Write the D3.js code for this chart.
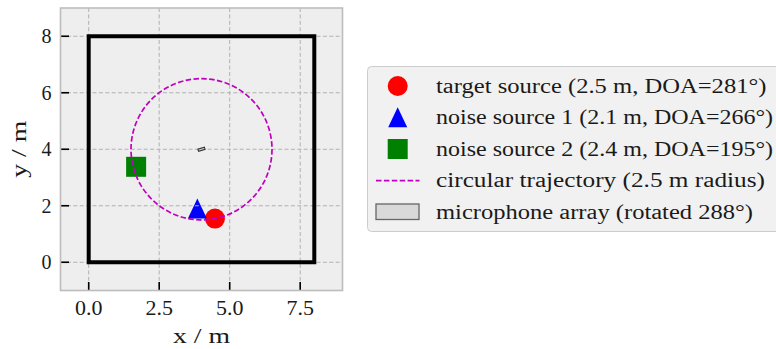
<!DOCTYPE html>
<html>
<head>
<meta charset="utf-8">
<script src="https://cdn.jsdelivr.net/npm/d3@7"></script>
<style>
  html, body { margin: 0; padding: 0; background: #ffffff; }
  svg { display: block; }
  text { font-family: "Liberation Serif", "DejaVu Serif", serif; fill: #1a1a1a; }
</style>
</head>
<body>
<svg id="chart" width="776" height="349"></svg>
<script>
// Room layout (metres)
const roomCorners = [[0, 0], [8, 0], [8, 8], [0, 8]];
const arrayCenter = [4, 4];
const arrayRotation = 288;          // degrees
const arraySize = [0.08, 0.24];     // element extent along local x, y (m)
const trajectoryRadius = 2.5;

// Sources: distance from array (m) and direction of arrival (deg)
const sourceNames = ["target source", "noise source 1", "noise source 2"];
const sourceDist = [2.5, 2.1, 2.4];
const sourceDOA = [281, 266, 195];
const sourceShapes = ["circle", "triangle", "square"];
const sourceColors = ["#ff0000", "#0000ff", "#008000"];

// Axes
const xDomain = [-1, 9];
const yDomain = [-1, 9];
const xTicks = [0, 2.5, 5, 7.5];
const yTicks = [0, 2, 4, 6, 8];

const svg = d3.select("#chart");
const plot = { left: 60.5, right: 342.5, top: 8, bottom: 290.5 };

const x = d3.scaleLinear().domain(xDomain).range([plot.left, plot.right]);
const y = d3.scaleLinear().domain(yDomain).range([plot.bottom, plot.top]);

const rad = d => d * Math.PI / 180;
const sourcePos = sourceDist.map((d, i) => [
  arrayCenter[0] + d * Math.cos(rad(sourceDOA[i])),
  arrayCenter[1] + d * Math.sin(rad(sourceDOA[i]))
]);

// axes background
svg.append("rect")
  .attr("x", plot.left).attr("y", plot.top)
  .attr("width", plot.right - plot.left).attr("height", plot.bottom - plot.top)
  .attr("fill", "#eeeeee");

svg.append("clipPath").attr("id", "plotclip")
  .append("rect")
  .attr("x", plot.left).attr("y", plot.top)
  .attr("width", plot.right - plot.left).attr("height", plot.bottom - plot.top);

const g = svg.append("g").attr("clip-path", "url(#plotclip)");

// marker drawing helper
function drawMarker(sel, shape, cx, cy, color, s) {
  if (shape === "circle") {
    sel.append("circle").attr("cx", cx).attr("cy", cy).attr("r", s * 0.5).attr("fill", color);
  } else if (shape === "triangle") {
    const h = s, w = s * 0.95;
    sel.append("path")
      .attr("d", `M${cx},${cy - h / 2} L${cx + w / 2},${cy + h / 2} L${cx - w / 2},${cy + h / 2} Z`)
      .attr("fill", color);
  } else {
    sel.append("rect").attr("x", cx - s / 2).attr("y", cy - s / 2)
      .attr("width", s).attr("height", s).attr("fill", color);
  }
}

// sources
sourcePos.forEach((p, i) => {
  drawMarker(g, sourceShapes[i], x(p[0]), y(p[1]), sourceColors[i], 20);
});

// grid
const grid = g.append("g").attr("stroke", "#b0b0b0").attr("stroke-width", 1)
  .attr("stroke-dasharray", "4,2.4");
xTicks.forEach(t => grid.append("line")
  .attr("x1", x(t)).attr("x2", x(t)).attr("y1", plot.top).attr("y2", plot.bottom));
yTicks.forEach(t => grid.append("line")
  .attr("y1", y(t)).attr("y2", y(t)).attr("x1", plot.left).attr("x2", plot.right));

// circular trajectory around the array
g.append("ellipse")
  .attr("cx", x(arrayCenter[0])).attr("cy", y(arrayCenter[1]))
  .attr("rx", x(arrayCenter[0] + trajectoryRadius) - x(arrayCenter[0]))
  .attr("ry", y(arrayCenter[1]) - y(arrayCenter[1] + trajectoryRadius))
  .attr("fill", "none").attr("stroke", "#bf00bf").attr("stroke-width", 1.7)
  .attr("stroke-dasharray", "5.5,2.4");

// room walls
g.append("path")
  .attr("d", d3.line().x(d => x(d[0])).y(d => y(d[1])).curve(d3.curveLinearClosed)(roomCorners))
  .attr("fill", "none").attr("stroke", "#000000").attr("stroke-width", 4)
  .attr("stroke-linejoin", "miter");

// microphone array footprint, rotated about its centre
const a = rad(arrayRotation);
const local = [[-1, -1], [1, -1], [1, 1], [-1, 1]].map(([u, v]) => [u * arraySize[0] / 2, v * arraySize[1] / 2]);
const arrayPoly = local.map(([u, v]) => [
  arrayCenter[0] + u * Math.cos(a) - v * Math.sin(a),
  arrayCenter[1] + u * Math.sin(a) + v * Math.cos(a)
]);
g.append("path")
  .attr("d", d3.line().x(d => x(d[0])).y(d => y(d[1])).curve(d3.curveLinearClosed)(arrayPoly))
  .attr("fill", "#d9d9d9").attr("stroke", "#333333").attr("stroke-width", 1.1);

// ticks (inward)
const tickG = svg.append("g").attr("stroke", "#000").attr("stroke-width", 1.6);
xTicks.forEach(t => tickG.append("line")
  .attr("x1", x(t)).attr("x2", x(t)).attr("y1", plot.bottom).attr("y2", plot.bottom - 8.5));
yTicks.forEach(t => tickG.append("line")
  .attr("y1", y(t)).attr("y2", y(t)).attr("x1", plot.left).attr("x2", plot.left + 8.5));

// spines
svg.append("rect")
  .attr("x", plot.left).attr("y", plot.top)
  .attr("width", plot.right - plot.left).attr("height", plot.bottom - plot.top)
  .attr("fill", "none").attr("stroke", "#bdbdbd").attr("stroke-width", 1.6);

// tick labels
xTicks.forEach(t => svg.append("text")
  .attr("x", x(t)).attr("y", 315).attr("text-anchor", "middle")
  .attr("font-size", 20)
  .attr("textLength", 27.5).attr("lengthAdjust", "spacingAndGlyphs")
  .text(d3.format(".1f")(t)));
yTicks.forEach(t => svg.append("text")
  .attr("x", 51.5).attr("y", y(t) + 7).attr("text-anchor", "end")
  .attr("font-size", 20).text(t));

// axis labels
svg.append("text").attr("x", (plot.left + plot.right) / 2).attr("y", 343)
  .attr("text-anchor", "middle").attr("font-size", 20)
  .attr("textLength", 57).attr("lengthAdjust", "spacingAndGlyphs")
  .text("x / m");
svg.append("text")
  .attr("transform", `translate(26,${(plot.top + plot.bottom) / 2}) rotate(-90)`)
  .attr("text-anchor", "middle").attr("font-size", 20)
  .attr("textLength", 57).attr("lengthAdjust", "spacingAndGlyphs")
  .text("y / m");

// legend
const legendLabels = sourceNames.map((n, i) =>
  `${n} (${sourceDist[i].toFixed(1)} m, DOA=${sourceDOA[i]}°)`)
  .concat([`circular trajectory (${trajectoryRadius} m radius)`,
           `microphone array (rotated ${arrayRotation}°)`]);
const legendWidths = [330.5, 337, 337, 329, 317];

const leg = svg.append("g");
leg.append("rect")
  .attr("x", 367.5).attr("y", 66.5).attr("width", 430).attr("height", 165)
  .attr("rx", 4).attr("fill", "#f1f1f1").attr("stroke", "#cccccc").attr("stroke-width", 1);

const rowY = [86, 117.3, 149, 180.7, 212];
const keyX = 397.7;
sourceNames.forEach((n, i) => drawMarker(leg, sourceShapes[i], keyX, rowY[i], sourceColors[i], 20));
leg.append("line").attr("x1", 376).attr("x2", 419.5).attr("y1", rowY[3]).attr("y2", rowY[3])
  .attr("stroke", "#bf00bf").attr("stroke-width", 1.7).attr("stroke-dasharray", "5.5,2.4");
leg.append("rect").attr("x", 376).attr("y", 204).attr("width", 43).attr("height", 15.5)
  .attr("fill", "#d9d9d9").attr("stroke", "#666666").attr("stroke-width", 1.3);

legendLabels.forEach((lab, i) => leg.append("text")
  .attr("x", 436).attr("y", rowY[i] + 6.5)
  .attr("font-size", 20)
  .attr("textLength", legendWidths[i]).attr("lengthAdjust", "spacingAndGlyphs")
  .text(lab));
</script>
</body>
</html>
